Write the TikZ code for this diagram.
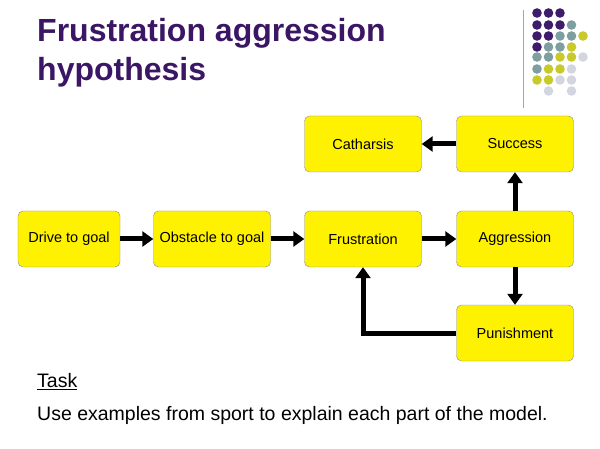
\documentclass[tikz,border=0pt]{standalone}
\usepackage{fontspec}
\setmainfont{Liberation Sans}
\usetikzlibrary{arrows.meta}
\definecolor{ttl}{HTML}{3A1665}
\definecolor{dP}{HTML}{3D1C6B}
\definecolor{dT}{HTML}{7E9EA0}
\definecolor{dY}{HTML}{C8C92A}
\definecolor{dL}{HTML}{D3D6E0}
\begin{document}
\begin{tikzpicture}[x=1pt,y=-1pt,
 box/.style={draw=black!45,fill=yellow,rounded corners=5pt,minimum width=117pt,minimum height=56pt,font=\fontsize{14.5}{17}\selectfont,inner sep=0pt},
 arr/.style={line width=5pt,-{Triangle[length=11pt,width=15pt]}}]
\useasboundingbox (0,0) rectangle (600,449);
\fill[white] (0,0) rectangle (600,449);
\node[anchor=west,font=\bfseries\fontsize{32}{39}\selectfont,text=ttl,align=left,inner sep=0pt] (title) at (37,53) {Frustration aggression\\hypothesis};
\draw[gray!70,line width=1pt] (523,10) -- (523,108);
\foreach \r/\c/\k in {13/0/P,13/1/P,13/2/P,25/0/P,25/1/P,25/2/P,25/3/T,36/0/P,36/1/P,36/2/T,36/3/T,36/4/Y,47/0/P,47/1/T,47/2/T,47/3/Y,57/0/T,57/1/T,57/2/Y,57/3/Y,57/4/L,69/0/T,69/1/Y,69/2/Y,69/3/L,80/0/Y,80/1/Y,80/2/L,80/3/L,91/1/L,91/3/L}
 \fill[d\k] (537+11.5*\c,\r) circle (4.8pt);
\node[box,minimum width=102pt] (drive) at (69,239) {Drive to goal};
\node[box] (obst) at (212,239) {Obstacle to goal};
\node[box] (frus) at (363,239) {Frustration};
\node[box] (aggr) at (515,239) {Aggression};
\node[box] (cath) at (363,144) {Catharsis};
\node[box] (succ) at (515,144) {Success};
\node[box] (puni) at (515,333) {Punishment};
\draw[arr] (drive) -- (obst);
\draw[arr] (obst) -- (frus);
\draw[arr] (frus) -- (aggr);
\draw[arr] (aggr) -- (succ);
\draw[arr] (succ) -- (cath);
\draw[arr] (aggr) -- (puni);
\draw[arr] (puni.west) -| (frus.south);
\node[anchor=west,font=\fontsize{19.5}{22}\selectfont,inner sep=0pt] (task) at (37,382) {\underline{Task}};
\node[anchor=west,font=\fontsize{19.5}{22}\selectfont,inner sep=0pt] (use) at (37,415) {Use examples from sport to explain each part of the model.};
\end{tikzpicture}
\end{document}
